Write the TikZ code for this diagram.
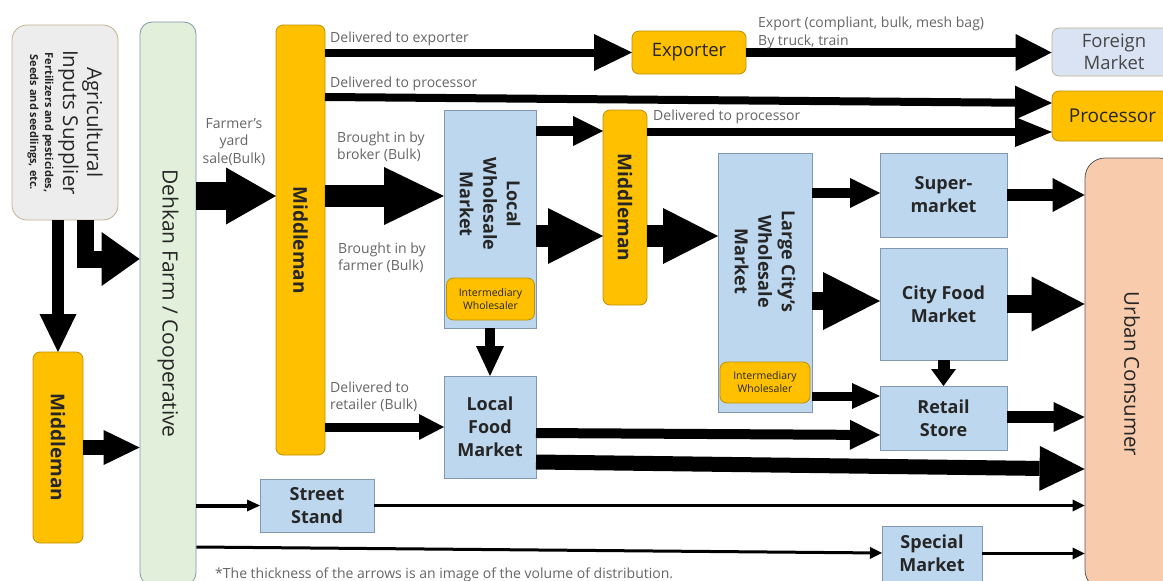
\documentclass[tikz,border=0pt]{standalone}
\usepackage{fontspec}
\setmainfont{Open Sans}
\usetikzlibrary{arrows.meta,backgrounds}

\definecolor{orangefill}{HTML}{FFC000}
\definecolor{orangeline}{HTML}{BF9000}
\definecolor{bluefill}{HTML}{BDD7EE}
\definecolor{blueline}{HTML}{8497B0}
\definecolor{farmfill}{HTML}{E2EFDA}
\definecolor{supfill}{HTML}{EDEDED}
\definecolor{tanline}{HTML}{C2B28F}
\definecolor{forfill}{HTML}{DAE3F3}
\definecolor{ucfill}{HTML}{F8CBAD}
\definecolor{lblgray}{HTML}{666666}
\definecolor{boxtext}{HTML}{262626}

\tikzset{
  orangebox/.style={draw=orangeline, line width=0.8pt, fill=orangefill, rounded corners=7pt, inner sep=0pt, outer sep=0pt, text=boxtext},
  bluebox/.style={draw=blueline, line width=0.8pt, fill=bluefill, inner sep=0pt, outer sep=0pt, text=boxtext, align=center, font=\bfseries\fontsize{18}{23}\selectfont},
  rot/.style={rotate=-90, align=center, text=boxtext, inner sep=0pt},
  lbl/.style={text=lblgray, font=\fontsize{14}{17.5}\selectfont, inner sep=0pt, align=left, anchor=west},
  tiny/.style={font=\fontsize{10.5}{13}\selectfont, align=center, text=boxtext},
  flow/.style n args={3}{line width=#1pt, -{Triangle[length=#2pt,width=#3pt,line width=0pt]}},
}

\begin{document}
\begin{tikzpicture}[x=1pt,y=-1pt]
	\useasboundingbox[fill=white] (0,0) rectangle (1163,581);
	% suppliers and farms
	\node[draw=tanline, line width=0.8pt, fill=supfill, rounded corners=15pt, minimum width=106pt, minimum height=195pt,
	  label={[rot, font=\fontsize{20.5}{24}\selectfont]center:{Agricultural\\Inputs Supplier\\[-6pt]{\bfseries\fontsize{11}{14}\selectfont Fertilizers and pesticides,}\\[-9pt]{\bfseries\fontsize{11}{14}\selectfont Seeds and seedlings, etc.}}}] (sup) at (65,122.5) {};
	\node[draw=blueline, line width=0.8pt, fill=farmfill, rounded corners=12pt, minimum width=56pt, minimum height=563pt,
	  label={[rot, font=\fontsize{21}{25}\selectfont]center:Dehkan Farm / Cooperative}] (farm) at (168,303.5) {};
	\node[orangebox, minimum width=50pt, minimum height=191pt, label={[rot, font=\bfseries\fontsize{19}{23}\selectfont]center:Middleman}] (mid0) at (58,447.5) {};
	\node[orangebox, minimum width=49pt, minimum height=430pt, label={[rot, font=\bfseries\fontsize{19}{23}\selectfont]center:Middleman}] (mid1) at (300.5,240) {};
	% markets
	\node[bluebox, minimum width=92pt, minimum height=218pt] (lwm) at (490,219) {};
	\node[rot, font=\bfseries\fontsize{18}{23.5}\selectfont] at ([yshift=15pt]lwm.center) {Local\\Wholesale\\Market};
	\node[orangebox, minimum width=88pt, minimum height=42pt, tiny] (iw1) at (490.5,299) {Intermediary\\Wholesaler};
	\node[orangebox, minimum width=44pt, minimum height=195pt, label={[rot, font=\bfseries\fontsize{19}{23}\selectfont]center:Middleman}] (mid2) at (625,207.5) {};
	\node[bluebox, minimum width=94pt, minimum height=259pt] (lcwm) at (765,282.5) {};
	\node[rot, font=\bfseries\fontsize{18}{23.5}\selectfont] at ([yshift=21pt]lcwm.center) {Large City's\\Wholesale\\Market};
	\node[orangebox, minimum width=90pt, minimum height=41pt, tiny] (iw2) at (765,382.5) {Intermediary\\Wholesaler};
	\node[bluebox, minimum width=92pt, minimum height=102pt] (lfm) at (490,427) {Local\\Food\\Market};
	\node[bluebox, minimum width=114pt, minimum height=53pt] (ss) at (317,505.5) {Street\\Stand};
	\node[bluebox, minimum width=100pt, minimum height=55pt] (sm) at (932,553.5) {Special\\Market};
	\node[bluebox, minimum width=127pt, minimum height=84pt] (supm) at (943.5,195) {Super-\\market};
	\node[bluebox, minimum width=127pt, minimum height=112pt] (cfm) at (943.5,304) {City Food\\Market};
	\node[bluebox, minimum width=127pt, minimum height=64pt] (rs) at (943.5,418) {Retail\\Store};
	% outlets
	\node[orangebox, minimum width=114pt, minimum height=43pt, font=\fontsize{18.5}{22}\selectfont] (exp) at (689,52.5) {Exporter};
	\node[draw=tanline, line width=0.8pt, fill=forfill, rounded corners=7pt, minimum width=124pt, minimum height=48pt, inner sep=0pt,
	  align=center, text=boxtext!85, font=\fontsize{18.5}{22}\selectfont] (forn) at (1114,52) {Foreign\\Market};
	\node[orangebox, minimum width=121pt, minimum height=50pt, font=\fontsize{19}{22}\selectfont] (proc) at (1112.5,116) {Processor};
	\node[draw=black!65, line width=0.8pt, fill=ucfill, rounded corners=20pt, minimum width=94pt, minimum height=432pt,
	  label={[rot, font=\fontsize{20.5}{24}\selectfont]center:Urban Consumer}] (uc) at (1132,374) {};

	% flows
	\begin{scope}[on background layer]
	\draw[flow={14}{47}{47}] (farm.east |- 0,306) -- (lwm.west |- 0,306);
	\end{scope}
	\draw[flow={17}{38}{54}] (85,0 |- sup.south) |- (farm.west |- 0,259);
	\draw[flow={12}{38}{37}] (58,0 |- sup.south) -- (mid0.north);
	\draw[flow={15}{36}{35}] (mid0.east) -- (farm.west |- mid0.east);
	\draw[flow={28}{50}{57}] (farm.east |- 0,196) -- (mid1.west |- 0,196);
	\draw[flow={22}{60}{58}] (mid1.east |- 0,196) -- (lwm.west |- 0,196);
	\draw[flow={8}{38}{37}] (mid1.east |- exp.west) -- (exp.west);
	\draw[flow={9}{36}{37}] (exp.east) -- (forn.west |- exp.east);
	\draw[flow={8}{37}{34}] (mid1.east |- 0,97) -- (proc.west |- 0,103);
	\draw[flow={10}{30}{30}] (lwm.east |- 0,131) -- (mid2.west |- 0,131);
	\draw[flow={8}{37}{30}] (mid2.east |- 0,132) -- (proc.west |- 0,132);
	\draw[flow={22}{55}{56}] (lwm.east |- 0,236) -- (mid2.west |- 0,236);
	\draw[flow={22}{55}{56}] (mid2.east |- 0,236) -- (lcwm.west |- 0,236);
	\draw[flow={10}{30}{28}] (lwm.south) -- (lfm.north);
	\draw[flow={9}{25}{26}] (mid1.east |- 0,427) -- (lfm.west |- 0,427);
	\draw[flow={10}{30}{30}] (lfm.east |- 0,433) -- (rs.west |- 0,435);
	\draw[flow={15}{45}{45}] (lfm.east |- 0,462) -- (uc.west |- 0,469);
	\draw[flow={4}{13}{12}] (farm.east |- ss.west) -- (ss.west);
	\draw[flow={3}{12}{12}] (ss.east) -- (uc.west |- ss.east);
	\draw[flow={3}{12}{12}] (farm.east |- 0,547) -- (sm.west |- 0,553);
	\draw[flow={3}{12}{12}] (sm.east) -- (uc.west |- sm.east);
	\draw[flow={10}{30}{30}] (lcwm.east |- 0,193) -- (supm.west |- 0,193);
	\draw[flow={12}{32}{34}] (supm.east |- 0,195) -- (uc.west |- 0,195);
	\draw[flow={18}{57}{58}] (lcwm.east |- 0,301) -- (cfm.west |- 0,301);
	\draw[flow={18}{53}{55}] (cfm.east |- 0,304) -- (uc.west |- 0,304);
	\draw[flow={12}{17}{25}] (cfm.south) -- (rs.north);
	\draw[flow={9}{28}{26}] (lcwm.east |- 0,396) -- (rs.west |- 0,396);
	\draw[flow={12}{31}{30}] (rs.east |- 0,417) -- (uc.west |- 0,417);

	% labels
	\node[lbl, align=center, anchor=center] (yard) at (234,142) {Farmer's\\yard\\sale(Bulk)};
	\node[lbl] (lblexp) at (330,39) {Delivered to exporter};
	\node[lbl] (lblproc) at (330,84) {Delivered to processor};
	\node[lbl] (lblproc2) at (653,117) {Delivered to processor};
	\node[lbl] (lblexport) at (758,33) {Export (compliant, bulk, mesh bag)\\By truck, train};
	\node[lbl] (lblbroker) at (337,147) {Brought in by\\broker (Bulk)};
	\node[lbl] (lblfarmer) at (338,258) {Brought in by\\farmer (Bulk)};
	\node[lbl] (lblretail) at (330,397) {Delivered to\\retailer (Bulk)};
	\node[lbl] (note) at (215,575) {*The thickness of the arrows is an image of the volume of distribution.};
\end{tikzpicture}
\end{document}
